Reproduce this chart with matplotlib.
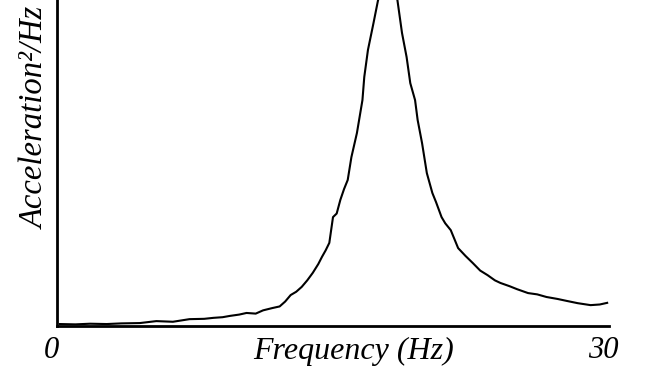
import matplotlib
matplotlib.use("Agg")
import matplotlib.pyplot as plt
from matplotlib.transforms import ScaledTranslation

# spectrum (arbitrary units, axis top = 1.0)
freq = [0.16, 1.0, 1.8, 2.7, 3.5, 4.5, 5.4, 6.3, 7.2, 8.0, 8.5, 9.0, 9.4, 9.9,
        10.3, 10.8, 11.2, 11.7, 12.1, 12.4, 12.7, 13.0, 13.3, 13.6, 13.9,
        14.2, 14.4, 14.6, 14.8, 15.0, 15.2, 15.4, 15.6, 15.8, 16.0, 16.3,
        16.6, 16.7, 16.9, 17.2, 17.45, 17.8, 18.2, 18.5, 18.75, 19.0, 19.2,
        19.46, 19.6, 19.84, 20.1, 20.4, 20.6, 20.9, 21.1, 21.4, 21.8, 22.2,
        22.6, 23.0, 23.4, 23.8, 24.1, 24.6, 25.0, 25.6, 26.1, 26.6, 27.2,
        27.7, 28.3, 29.0, 29.5, 29.9]
psd = [0.006, 0.005, 0.007, 0.006, 0.008, 0.009, 0.015, 0.013, 0.021, 0.022,
       0.025, 0.027, 0.031, 0.035, 0.040, 0.038, 0.048, 0.055, 0.060, 0.075,
       0.095, 0.105, 0.120, 0.140, 0.163, 0.190, 0.212, 0.232, 0.255, 0.334,
       0.345, 0.387, 0.420, 0.448, 0.518, 0.592, 0.693, 0.764, 0.847, 0.929,
       1.0, 1.03, 1.04, 1.0, 0.899, 0.825, 0.745, 0.693, 0.632, 0.561, 0.469,
       0.408, 0.380, 0.334, 0.315, 0.294, 0.239, 0.215, 0.193, 0.170, 0.156,
       0.140, 0.132, 0.122, 0.113, 0.101, 0.097, 0.089, 0.083, 0.077, 0.070,
       0.064, 0.066, 0.071]

xticks = [0, 30]
xticklabels = ["0", "30"]

font = "Liberation Serif"

fig = plt.figure(figsize=(6.64, 3.72), dpi=100)
ax = fig.add_axes([57 / 664, 46 / 372, 552 / 664, 326 / 372])

ax.plot(freq, psd, color="black", lw=1.5)
ax.set_xlim(0, 30)
ax.set_ylim(0, 1.0)

for side in ["top", "right"]:
    ax.spines[side].set_visible(False)
for side in ["left", "bottom"]:
    ax.spines[side].set_linewidth(2)

ax.set_yticks([])
ax.set_xticks(xticks)
ax.set_xticklabels(xticklabels, family=font, style="italic", fontsize=22)
ax.tick_params(axis="x", length=0, pad=7)
shift = ScaledTranslation(-6 / 100, 0, fig.dpi_scale_trans)
for lab in ax.get_xticklabels():
    lab.set_transform(lab.get_transform() + shift)

fig.text(354 / 664, 1 - 351 / 372, "Frequency (Hz)", family=font,
         style="italic", fontsize=23, ha="center", va="center")
fig.text(36 / 664, 1 - 118 / 372, "Acceleration\u00b2/Hz", family=font,
         style="italic", fontsize=23.5, rotation=90, ha="center", va="center")

fig.savefig("out.png", dpi=100)
